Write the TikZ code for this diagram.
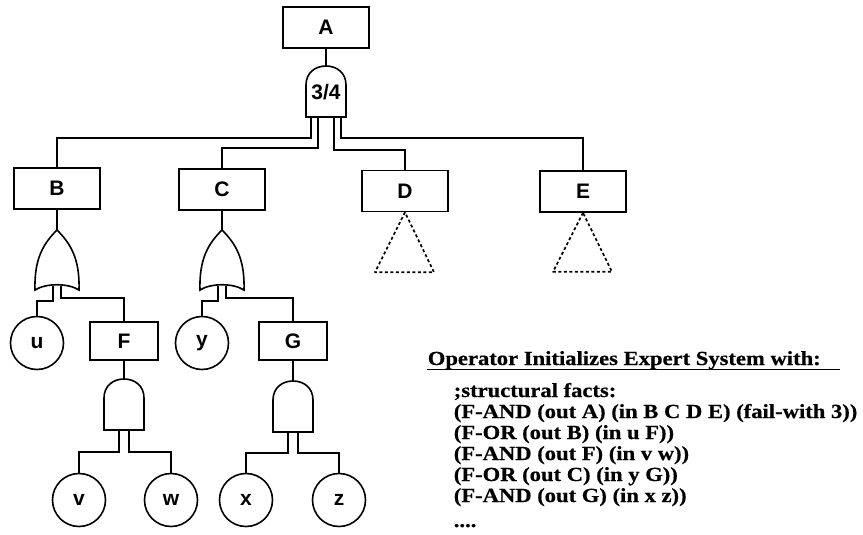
\documentclass[tikz,border=0pt]{standalone}
\usepackage{fontspec}
\setmainfont{Liberation Serif}
\newfontfamily\lblfont{Liberation Sans}
\newfontfamily\txtfont[FakeStretch=1.13,FakeBold=0.6]{Liberation Serif}
\begin{document}
\begin{tikzpicture}[x=1pt,y=-1pt,line width=1.6pt,
  lbl/.style={font=\lblfont\bfseries\fontsize{21}{21}\selectfont},
  box/.style={draw,rectangle,minimum width=86pt,minimum height=41pt,inner sep=0pt,lbl},
  sbox/.style={box,minimum width=68pt,minimum height=38pt},
  evt/.style={draw,circle,minimum size=53pt,inner sep=0pt,lbl},
  undev/.style={draw,line width=1.7pt,dash pattern=on 3pt off 2.5pt,line join=round},
  facts/.style={anchor=base west,inner sep=0pt,font=\txtfont\bfseries\fontsize{20}{21}\selectfont},
  pics/orgate/.style={code={
    \draw (-22,60) .. controls (-23,28) and (-13,13) .. (0,0)
          .. controls (13,13) and (23,28) .. (22,60)
          .. controls (11,53) and (-11,53) .. cycle;}},
  pics/andgate/.style={code={
    \draw (-20,51) -- (-20,19) .. controls (-20,7) and (-11,0) .. (0,0)
          .. controls (11,0) and (20,7) .. (20,19) -- (20,51) -- cycle;}}
]
\useasboundingbox (0,0) rectangle (863,535);

% ---- events / boxes
\node[box] (A) at (326,27.5) {A};
\node[box] (B) at (57,188.5) {B};
\node[box] (C) at (222,189.5) {C};
\node[box] (D) at (405,191) {D};
\node[box] (E) at (583,191.5) {E};
\node[sbox] (F) at (124,341) {F};
\node[sbox] (G) at (293,341) {G};
\node[evt] (u) at (37,343) {u};
\node[evt] (y) at (202,343) {y};
\node[evt] (v) at (79,500) {v};
\node[evt] (w) at (171,500) {w};
\node[evt] (x) at (246,500) {x};
\node[evt] (z) at (339,500) {z};

% ---- gates
\pic at (326,66) {andgate};
\node[lbl,inner sep=0pt] (k34) at (326,92) {3/4};
\coordinate (gAt) at (326,66);
\coordinate (gA1) at (311,117);
\coordinate (gA2) at (318,117);
\coordinate (gA3) at (334,117);
\coordinate (gA4) at (341,117);

\pic at (57,230) {orgate};
\coordinate (gBt) at (57,230);
\coordinate (gB1) at (53,286);
\coordinate (gB2) at (61,286);

\pic at (222,230) {orgate};
\coordinate (gCt) at (222,230);
\coordinate (gC1) at (218,286);
\coordinate (gC2) at (226,286);

\pic at (124,379) {andgate};
\coordinate (gFt) at (124,379);
\coordinate (gF1) at (119,430);
\coordinate (gF2) at (129,430);

\pic at (293,381) {andgate};
\coordinate (gGt) at (293,381);
\coordinate (gG1) at (288,432);
\coordinate (gG2) at (298,432);

% ---- junction points
\coordinate (jB) at (57,138);
\coordinate (jC) at (222,148);
\coordinate (jD) at (405,150);
\coordinate (jE) at (583,138);
\coordinate (ju) at (37,301);
\coordinate (jF) at (124,298);
\coordinate (jy) at (202,301);
\coordinate (jG) at (293,298);
\coordinate (jv) at (79,452);
\coordinate (jw) at (171,452);
\coordinate (jx) at (246,453);
\coordinate (jz) at (339,453);

% ---- connectors
\draw (A.south) -- (gAt);
\draw (gA1) |- (jB) -- (B.north);
\draw (gA2) |- (jC) -- (C.north);
\draw (gA3) |- (jD) -- (D.north);
\draw (gA4) |- (jE) -- (E.north);

\draw (B.south) -- (gBt);
\draw (gB1) |- (ju) -- (u.north);
\draw (gB2) |- (jF) -- (F.north);

\draw (C.south) -- (gCt);
\draw (gC1) |- (jy) -- (y.north);
\draw (gC2) |- (jG) -- (G.north);

\draw (F.south) -- (gFt);
\draw (gF1) |- (jv) -- (v.north);
\draw (gF2) |- (jw) -- (w.north);

\draw (G.south) -- (gGt);
\draw (gG1) |- (jx) -- (x.north);
\draw (gG2) |- (jz) -- (z.north);

% ---- undeveloped transfer triangles
\draw[undev] (D.south) -- ++(-30,60) -- ++(59,0) -- cycle;
\draw[undev] (E.south) -- ++(-30,59) -- ++(59,0) -- cycle;

% ---- text block
\node[facts] (hdr) at (427,365) {Operator Initializes Expert System with:};
\coordinate (ulend) at (840,369.5);
\draw[line width=1.4pt] ([yshift=-4.5pt]hdr.base west) -- (ulend);
\node[facts] (l1) at (453,397) {;structural facts:};
\node[facts] (l2) at (453,418) {(F-AND (out A) (in B C D E) (fail-with 3))};
\node[facts] (l3) at (453,439) {(F-OR (out B) (in u F))};
\node[facts] (l4) at (453,460) {(F-AND (out F) (in v w))};
\node[facts] (l5) at (453,481) {(F-OR (out C) (in y G))};
\node[facts] (l6) at (453,502) {(F-AND (out G) (in x z))};
\node[facts] (l7) at (453,527) {....};
\end{tikzpicture}
\end{document}
